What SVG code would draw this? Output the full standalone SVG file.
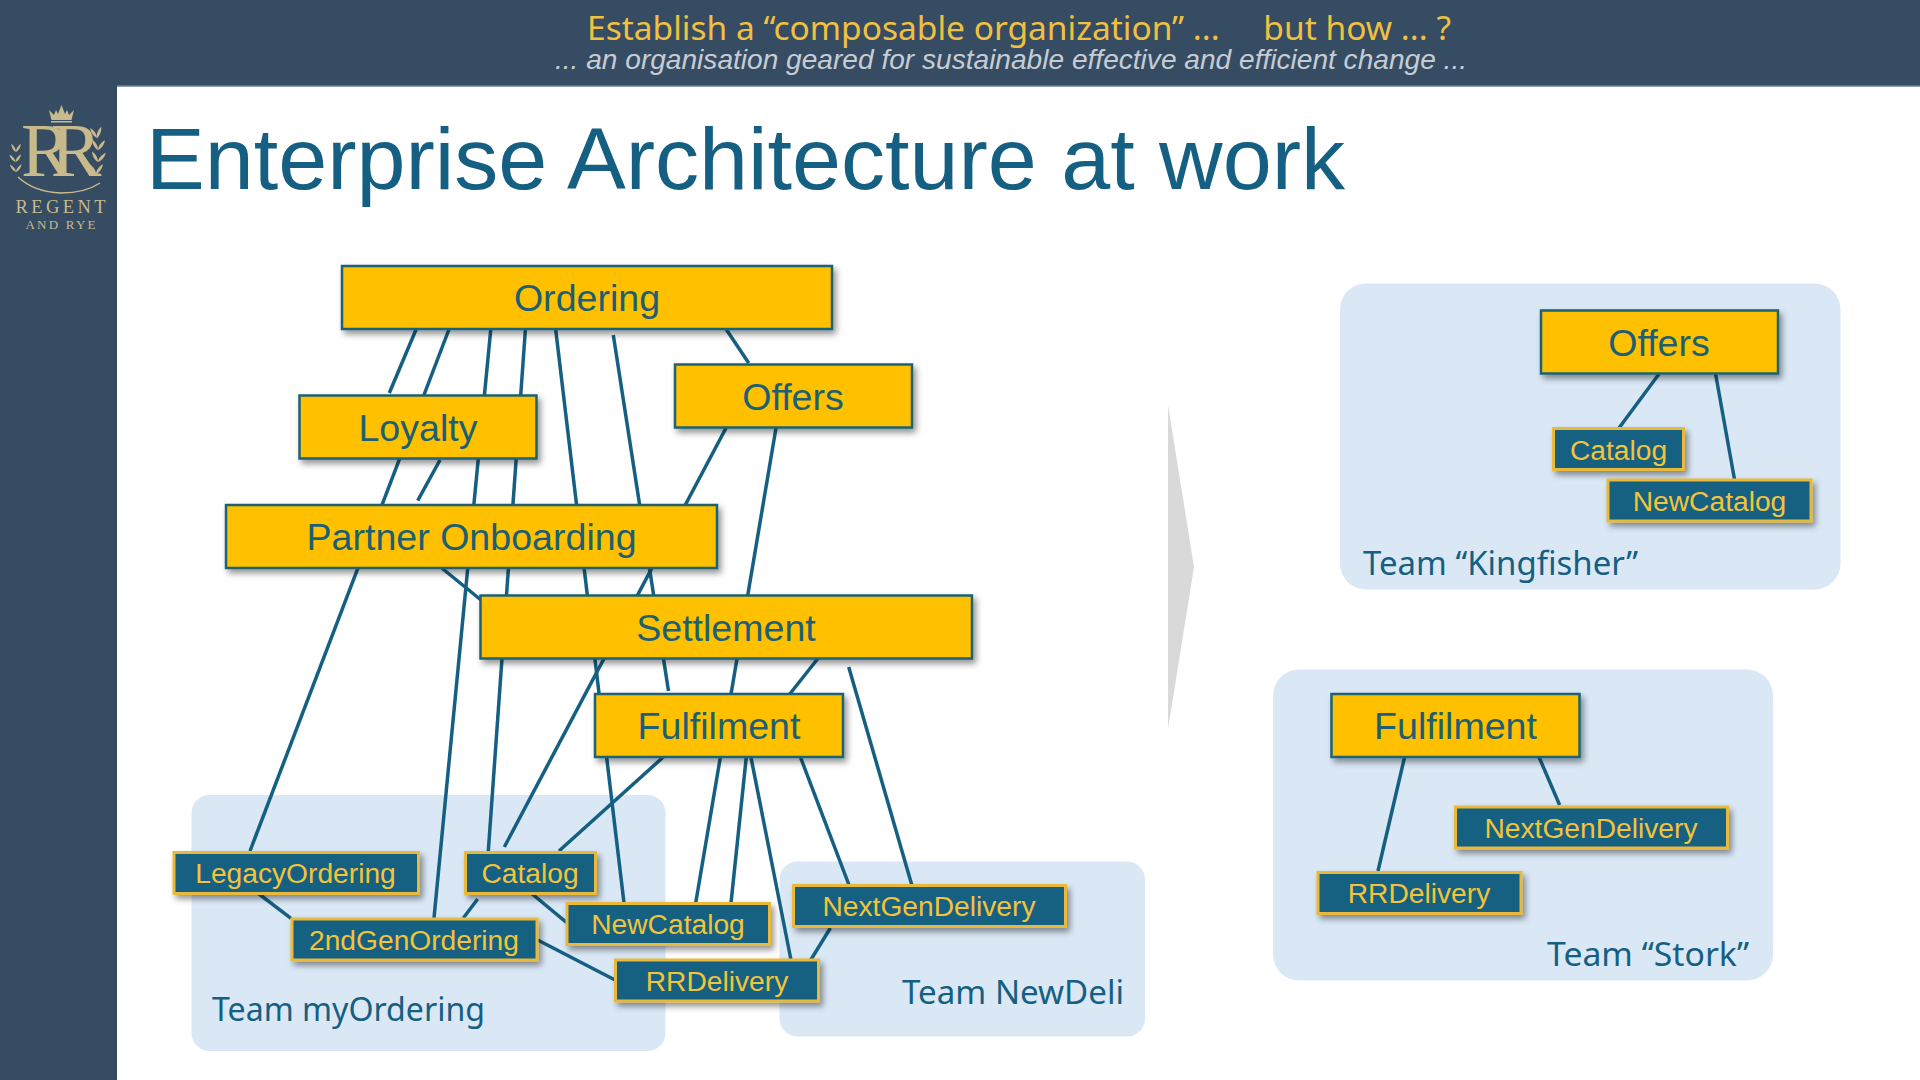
<svg xmlns="http://www.w3.org/2000/svg" width="1920" height="1080" viewBox="0 0 1920 1080">
<defs>
<filter id="sh" x="-10%" y="-20%" width="125%" height="150%"><feDropShadow dx="3" dy="4" stdDeviation="3" flood-color="#000" flood-opacity="0.42"/></filter>
<path id="leaf" d="M0 0C3 -2.500 8 -2.500 12 -1C8 1.500 3 1.500 0 0Z"/>
</defs>
<style>
text{font-family:"Liberation Sans",Arial,sans-serif}
.team{fill:#dae8f6}
.big rect{fill:#ffc000;stroke:#1d6273;stroke-width:2.500;filter:url(#sh)}
.big text{font-size:37.600px;fill:#1d5f72;text-anchor:middle}
.small rect{fill:#156082;stroke:#e8b93a;stroke-width:3;filter:url(#sh)}
.small text{font-size:28.200px;fill:#f2c43a;text-anchor:middle}
.tl{font-family:"Noto Sans",sans-serif;font-size:33px;fill:#156082}
#connectors line{stroke:#156082;stroke-width:3.500;fill:none}
.gold{fill:#c9ba8c}
</style>
<rect width="1920" height="1080" fill="#fff"/>
<g id="frame">
<rect x="0" y="0" width="117" height="1080" fill="#364c63"/>
<rect x="0" y="0" width="1920" height="86" fill="#364c63"/>
<rect x="117" y="85.500" width="1803" height="1.500" fill="#8c9db0"/>
</g>
<g id="logo">
<path class="gold" d="M49 110L54 115L56 110L58 114L61.500 105L65 114L67 110L69 115L74 110L71.500 120H51.500Z"/>
<rect class="gold" x="51" y="121" width="21" height="1.500"/>
<text x="21" y="176" font-size="76" class="gold" style="font-family:'Liberation Serif',serif;letter-spacing:-21px">RR</text>
<path d="M18 177Q34 192 61 193Q85 193 100 183" fill="none" stroke="#c9ba8c" stroke-width="1.500"/>
<g class="gold">
<use href="#leaf" transform="translate(16 172) rotate(-125) scale(.8)"/><use href="#leaf" transform="translate(16 172) rotate(-50) scale(.8)"/>
<use href="#leaf" transform="translate(15.500 162) rotate(-125) scale(.8)"/><use href="#leaf" transform="translate(15.500 162) rotate(-50) scale(.8)"/>
<use href="#leaf" transform="translate(16 152) rotate(-115) scale(.8)"/><use href="#leaf" transform="translate(16 152) rotate(-55) scale(.8)"/>
<use href="#leaf" transform="translate(96 174) rotate(-50)"/><use href="#leaf" transform="translate(96 174) rotate(-120)"/>
<use href="#leaf" transform="translate(98 162) rotate(-45)"/><use href="#leaf" transform="translate(98 162) rotate(-115)"/>
<use href="#leaf" transform="translate(98 150) rotate(-50)"/><use href="#leaf" transform="translate(98 150) rotate(-115)"/>
<use href="#leaf" transform="translate(97 138) rotate(-65)"/><use href="#leaf" transform="translate(97 138) rotate(-120)"/>
</g>
<text x="15.500" y="213" font-size="18.500" class="gold" textLength="90" style="font-family:'Liberation Serif',serif">REGENT</text>
<text x="25.500" y="229" font-size="13" class="gold" textLength="70" style="font-family:'Liberation Serif',serif">AND RYE</text>
</g>
<g id="header">
<text x="587" y="40" font-size="32" fill="#f0c040" textLength="864" lengthAdjust="spacingAndGlyphs" style="font-family:'Noto Sans',sans-serif" xml:space="preserve">Establish a “composable organization” ...     but how ... ?</text>
<text x="555" y="69" font-size="28" fill="#c6ccd4" font-style="italic" textLength="912" lengthAdjust="spacingAndGlyphs">... an organisation geared for sustainable effective and efficient change ...</text>
</g>
<text id="title" x="146" y="189" font-size="88" fill="#156082" textLength="1199" lengthAdjust="spacingAndGlyphs">Enterprise Architecture at work</text>
<g id="teams">
<rect id="team-myordering" class="team" x="191.500" y="795" width="474" height="256" rx="18"/>
<rect id="team-newdeli" class="team" x="779.500" y="861.500" width="365.500" height="175" rx="18"/>
<rect id="team-kingfisher" class="team" x="1340" y="283.500" width="500.500" height="306" rx="26"/>
<rect id="team-stork" class="team" x="1273" y="669.500" width="500" height="311" rx="26"/>
<text class="tl" x="212" y="1020.500" textLength="273" lengthAdjust="spacingAndGlyphs">Team myOrdering</text>
<text class="tl" x="902" y="1004" textLength="222" lengthAdjust="spacingAndGlyphs">Team NewDeli</text>
<text class="tl" x="1363" y="575" textLength="275" lengthAdjust="spacingAndGlyphs">Team “Kingfisher”</text>
<text class="tl" x="1547" y="966" textLength="202" lengthAdjust="spacingAndGlyphs">Team “Stork”</text>
</g>
<polygon id="chevron" points="1168,405 1194,567 1168,729" fill="#d9d9d9"/>
<g id="connectors">
<line x1="416.700" y1="328" x2="389.300" y2="393"/>
<line x1="449.500" y1="328" x2="250" y2="851"/>
<line x1="490.900" y1="328" x2="434" y2="918"/>
<line x1="525.500" y1="328" x2="488.300" y2="851"/>
<line x1="555.500" y1="328" x2="624" y2="903"/>
<line x1="613.300" y1="335" x2="668.500" y2="691"/>
<line x1="726" y1="329" x2="748.700" y2="363"/>
<line x1="440" y1="460" x2="417.700" y2="500.700"/>
<line x1="726" y1="428" x2="504.300" y2="847"/>
<line x1="776" y1="428" x2="695.700" y2="903"/>
<line x1="441.700" y1="568" x2="481" y2="600"/>
<line x1="818.300" y1="658" x2="789" y2="695"/>
<line x1="848.700" y1="667" x2="911.800" y2="885"/>
<line x1="663.300" y1="757" x2="559" y2="851"/>
<line x1="746.400" y1="756" x2="731" y2="903"/>
<line x1="750.700" y1="756" x2="791" y2="960"/>
<line x1="800" y1="756" x2="849" y2="885"/>
<line x1="257.700" y1="893" x2="291" y2="918.300"/>
<line x1="477.700" y1="899" x2="463.300" y2="918"/>
<line x1="531" y1="893" x2="566.700" y2="922.700"/>
<line x1="537.700" y1="940" x2="615" y2="980"/>
<line x1="830.400" y1="928" x2="810.700" y2="960"/>
<line x1="1659" y1="374" x2="1619" y2="428"/>
<line x1="1715.600" y1="374" x2="1734.600" y2="480"/>
<line x1="1404.600" y1="757" x2="1378" y2="871"/>
<line x1="1539" y1="757" x2="1559.600" y2="805"/>
</g>
<g id="n-ordering" class="big"><rect x="342" y="266" width="490" height="63"/><text x="587" y="311">Ordering</text></g>
<g id="n-offers" class="big"><rect x="675" y="364.500" width="237" height="63"/><text x="793" y="409.500">Offers</text></g>
<g id="n-loyalty" class="big"><rect x="299.500" y="395.500" width="237" height="63"/><text x="418" y="440.500">Loyalty</text></g>
<g id="n-partner" class="big"><rect x="226" y="505" width="491" height="63"/><text x="471.500" y="549.500">Partner Onboarding</text></g>
<g id="n-settlement" class="big"><rect x="480.500" y="595.500" width="491.500" height="63"/><text x="726" y="641">Settlement</text></g>
<g id="n-fulfilment" class="big"><rect x="595" y="694" width="248" height="63"/><text x="719" y="739">Fulfilment</text></g>
<g id="n-legacy" class="small"><rect x="174" y="852.500" width="244.500" height="41"/><text x="295.500" y="883">LegacyOrdering</text></g>
<g id="n-catalog" class="small"><rect x="465.500" y="852.500" width="130" height="41"/><text x="530" y="883">Catalog</text></g>
<g id="n-2ndgen" class="small"><rect x="292" y="919" width="245" height="41"/><text x="414" y="950">2ndGenOrdering</text></g>
<g id="n-newcatalog" class="small"><rect x="567" y="903.500" width="202.500" height="41"/><text x="668" y="933.500">NewCatalog</text></g>
<g id="n-rrdelivery" class="small"><rect x="615.500" y="960" width="203" height="41"/><text x="717" y="990.500">RRDelivery</text></g>
<g id="n-nextgen" class="small"><rect x="793.500" y="885.500" width="272" height="41"/><text x="929" y="916">NextGenDelivery</text></g>
<g id="k-offers" class="big"><rect x="1541" y="310.500" width="237" height="63"/><text x="1659" y="356">Offers</text></g>
<g id="k-catalog" class="small"><rect x="1553.500" y="428.500" width="130" height="41"/><text x="1618.500" y="460">Catalog</text></g>
<g id="k-newcatalog" class="small"><rect x="1608" y="480" width="203" height="41"/><text x="1709.500" y="510.500">NewCatalog</text></g>
<g id="s-fulfilment" class="big"><rect x="1331.500" y="694" width="248" height="63"/><text x="1455.500" y="739">Fulfilment</text></g>
<g id="s-nextgen" class="small"><rect x="1455.500" y="807" width="272" height="41"/><text x="1591" y="837.500">NextGenDelivery</text></g>
<g id="s-rrdelivery" class="small"><rect x="1318" y="872.500" width="203" height="41"/><text x="1419" y="902.500">RRDelivery</text></g>
</svg>
